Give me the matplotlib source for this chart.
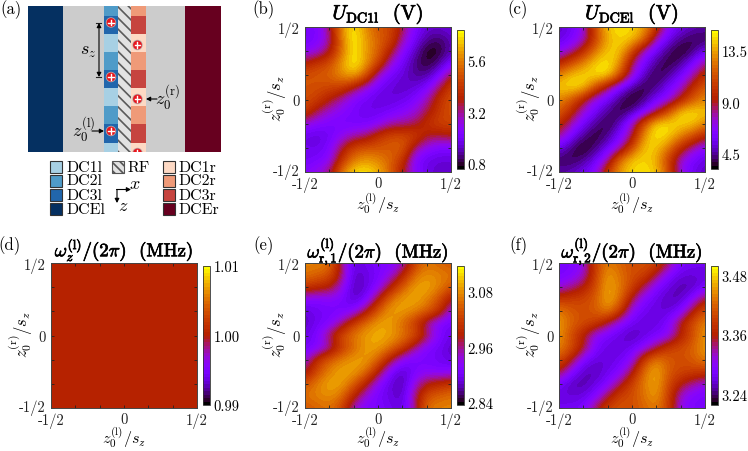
import matplotlib
matplotlib.use("Agg")
import matplotlib.pyplot as plt
import matplotlib.patheffects as pe
from matplotlib.patches import Rectangle, Circle
from matplotlib.transforms import ScaledTranslation
import numpy as np

plt.rcParams['font.family'] = ['cmr10', 'DejaVu Sans']
plt.rcParams['mathtext.fontset'] = 'cm'
plt.rcParams['axes.unicode_minus'] = False
plt.rcParams['axes.formatter.use_mathtext'] = True
plt.rcParams['hatch.linewidth'] = 1.2

W, H = 748, 452

# values, rows go from z=+1/2 down to z=-1/2, columns from -1/2 to +1/2
u_dc1l = [
    [1.99, 2.19, 3.29, 6.00, 6.85, 5.75, 4.97, 4.71, 3.48, 2.19, 1.67, 1.67, 1.80],
    [1.93, 2.12, 3.03, 5.62, 7.04, 6.00, 5.23, 4.71, 3.03, 1.99, 1.28, 1.02, 1.54],
    [2.38, 2.64, 3.55, 5.49, 6.91, 6.00, 5.23, 3.81, 2.38, 1.54, 0.63, 0.76, 1.54],
    [3.81, 4.45, 4.84, 6.00, 7.04, 6.00, 4.71, 2.77, 1.93, 1.15, 0.76, 1.28, 2.19],
    [4.97, 5.10, 5.23, 5.88, 6.26, 5.10, 2.77, 1.99, 1.67, 1.28, 1.28, 2.19, 3.81],
    [4.97, 4.84, 4.71, 4.58, 3.68, 2.64, 1.99, 1.67, 1.54, 1.67, 2.19, 3.48, 4.71],
    [4.84, 4.58, 3.81, 3.03, 2.19, 1.99, 1.67, 1.67, 1.80, 2.19, 3.03, 4.32, 4.97],
    [4.58, 3.42, 2.77, 2.38, 2.12, 1.80, 1.86, 2.06, 2.38, 2.77, 3.55, 4.45, 4.97],
    [2.77, 2.38, 2.19, 2.06, 2.06, 2.06, 2.38, 3.03, 3.16, 3.42, 4.32, 4.71, 4.71],
    [1.80, 1.67, 1.93, 2.51, 3.03, 3.29, 4.32, 4.84, 4.84, 4.71, 3.68, 3.55, 3.81],
    [1.93, 1.80, 2.19, 3.55, 4.71, 4.97, 4.97, 5.10, 5.23, 3.29, 2.51, 2.19, 2.19],
    [1.93, 2.12, 2.38, 4.32, 5.62, 6.00, 5.75, 5.23, 4.32, 2.19, 1.80, 1.67, 1.67],
    [2.38, 2.64, 3.29, 5.62, 6.72, 6.85, 6.26, 5.23, 3.68, 2.38, 1.80, 1.54, 1.67],
]
u_dcel = [
    [5.0, 5.7, 7.1, 11.4, 14.3, 14.8, 14.5, 13.4, 10.7, 6.6, 5.7, 5.0, 4.7],
    [5.3, 6.0, 7.3, 10.7, 13.8, 14.5, 14.3, 12.6, 7.6, 5.6, 4.4, 3.8, 4.0],
    [6.6, 7.8, 9.9, 12.6, 14.3, 14.3, 11.2, 7.2, 5.6, 4.2, 3.3, 4.2, 5.6],
    [9.5, 11.4, 12.9, 14.5, 14.9, 13.4, 8.3, 6.1, 4.4, 3.6, 4.4, 6.1, 8.3],
    [12.9, 14.3, 14.5, 14.7, 14.9, 11.4, 7.6, 4.9, 3.6, 4.4, 5.9, 7.8, 10.2],
    [14.3, 14.7, 14.5, 11.4, 8.3, 6.1, 4.4, 3.6, 4.4, 5.9, 7.3, 9.9, 11.9],
    [12.9, 11.7, 9.3, 6.8, 5.9, 4.2, 3.3, 4.2, 5.9, 6.8, 9.3, 11.7, 12.9],
    [11.9, 9.9, 7.3, 5.9, 4.4, 3.6, 4.4, 6.1, 8.3, 11.4, 14.5, 14.7, 14.3],
    [10.2, 7.8, 5.9, 4.4, 3.6, 4.9, 7.6, 11.4, 14.9, 14.7, 14.5, 14.3, 12.9],
    [8.3, 6.1, 4.4, 3.6, 4.4, 6.1, 8.3, 13.4, 14.9, 14.5, 12.9, 11.4, 9.5],
    [5.6, 4.2, 3.3, 4.2, 5.6, 7.2, 11.2, 14.3, 14.3, 12.6, 9.9, 7.8, 6.6],
    [4.0, 3.8, 4.4, 5.6, 7.6, 12.6, 14.3, 14.5, 13.8, 10.7, 7.3, 6.0, 5.3],
    [4.7, 5.0, 5.7, 6.6, 10.7, 13.4, 14.5, 14.8, 14.3, 11.4, 7.1, 5.7, 5.0],
]
w_z = [
    [1.000, 1.000, 1.000, 1.000, 1.000],
    [1.000, 1.000, 1.000, 1.000, 1.000],
    [1.000, 1.000, 1.000, 1.000, 1.000],
    [1.000, 1.000, 1.000, 1.000, 1.000],
    [1.000, 1.000, 1.000, 1.000, 1.000],
]
w_r1 = [
    [3.072, 3.072, 3.063, 2.962, 2.887, 2.899, 2.911, 2.911, 2.938, 3.027, 3.063, 3.051, 3.039],
    [3.063, 3.051, 3.039, 2.968, 2.878, 2.890, 2.905, 2.932, 2.991, 3.063, 3.081, 3.072, 3.063],
    [3.015, 3.000, 2.986, 2.938, 2.872, 2.887, 2.920, 2.986, 3.051, 3.090, 3.096, 3.072, 3.039],
    [2.920, 2.911, 2.920, 2.911, 2.878, 2.905, 2.986, 3.063, 3.090, 3.096, 3.072, 3.033, 2.971],
    [2.887, 2.899, 2.905, 2.905, 2.920, 2.980, 3.051, 3.090, 3.090, 3.072, 3.051, 3.009, 2.926],
    [2.878, 2.899, 2.911, 2.956, 3.021, 3.063, 3.090, 3.090, 3.051, 3.015, 2.944, 2.908, 2.899],
    [2.893, 2.911, 2.974, 3.039, 3.069, 3.090, 3.099, 3.090, 3.069, 3.039, 2.974, 2.911, 2.893],
    [2.899, 2.908, 2.944, 3.015, 3.051, 3.090, 3.090, 3.063, 3.021, 2.956, 2.911, 2.899, 2.878],
    [2.926, 3.009, 3.051, 3.072, 3.090, 3.090, 3.051, 2.980, 2.920, 2.905, 2.905, 2.899, 2.887],
    [2.971, 3.033, 3.072, 3.096, 3.090, 3.063, 2.986, 2.905, 2.878, 2.911, 2.920, 2.911, 2.920],
    [3.039, 3.072, 3.096, 3.090, 3.051, 2.986, 2.920, 2.887, 2.872, 2.938, 2.986, 3.000, 3.015],
    [3.063, 3.072, 3.081, 3.063, 2.991, 2.932, 2.905, 2.890, 2.878, 2.968, 3.039, 3.051, 3.063],
    [3.039, 3.051, 3.063, 3.027, 2.938, 2.911, 2.911, 2.899, 2.887, 2.962, 3.063, 3.072, 3.072],
]
w_r2 = [
    [3.286, 3.286, 3.305, 3.393, 3.438, 3.421, 3.404, 3.410, 3.398, 3.345, 3.286, 3.280, 3.277],
    [3.283, 3.289, 3.314, 3.393, 3.458, 3.432, 3.404, 3.398, 3.348, 3.289, 3.269, 3.266, 3.269],
    [3.308, 3.331, 3.359, 3.404, 3.463, 3.438, 3.398, 3.342, 3.289, 3.269, 3.252, 3.255, 3.283],
    [3.387, 3.393, 3.398, 3.415, 3.466, 3.432, 3.348, 3.289, 3.274, 3.255, 3.257, 3.297, 3.359],
    [3.438, 3.415, 3.404, 3.415, 3.444, 3.393, 3.297, 3.277, 3.266, 3.266, 3.289, 3.359, 3.410],
    [3.458, 3.421, 3.404, 3.393, 3.342, 3.297, 3.277, 3.266, 3.269, 3.289, 3.359, 3.410, 3.444],
    [3.452, 3.404, 3.359, 3.297, 3.283, 3.269, 3.252, 3.269, 3.283, 3.297, 3.359, 3.404, 3.452],
    [3.444, 3.410, 3.359, 3.289, 3.269, 3.266, 3.277, 3.297, 3.342, 3.393, 3.404, 3.421, 3.458],
    [3.410, 3.359, 3.289, 3.266, 3.266, 3.277, 3.297, 3.393, 3.444, 3.415, 3.404, 3.415, 3.438],
    [3.359, 3.297, 3.257, 3.255, 3.274, 3.289, 3.348, 3.432, 3.466, 3.415, 3.398, 3.393, 3.387],
    [3.283, 3.255, 3.252, 3.269, 3.289, 3.342, 3.398, 3.438, 3.463, 3.404, 3.359, 3.331, 3.308],
    [3.269, 3.266, 3.269, 3.289, 3.348, 3.398, 3.404, 3.432, 3.458, 3.393, 3.314, 3.289, 3.283],
    [3.277, 3.280, 3.286, 3.345, 3.398, 3.410, 3.404, 3.421, 3.438, 3.393, 3.305, 3.286, 3.286],
]

# colour ranges and colourbar ticks
limits_b, ticks_b = (0.57, 7.04), [0.8, 3.2, 5.6]
limits_c, ticks_c = (3.2, 15.3), [4.5, 9.0, 13.5]
limits_d, ticks_d = (0.99, 1.01), [0.99, 1.00, 1.01]
limits_e, ticks_e = (2.836, 3.135), [2.84, 2.96, 3.08]
limits_f, ticks_f = (3.218, 3.50), [3.24, 3.36, 3.48]

tick_pos = [-1/2, -1/3, -1/6, 0, 1/6, 1/3, 1/2]
tick_labels = ['-1/2', '', '', '0', '', '', '1/2']

# electrode colours
colors_left = ['#a7d0e4', '#4f9bc8', '#2166ac']
colors_right = ['#fdd9c4', '#ef9a78', '#c6443f']
color_dcel = '#053061'
color_dcer = '#67001f'
legend_names = ['DC1l', 'DC2l', 'DC3l', 'DCEl']
legend_names_r = ['DC1r', 'DC2r', 'DC3r', 'DCEr']

cmap = plt.get_cmap('gnuplot', 40)
bold = [pe.withStroke(linewidth=0.5, foreground='black')]

fig = plt.figure(figsize=(W / 100, H / 100), dpi=100)


def box(x0, y0, x1, y1):
    return [x0 / W, 1 - y1 / H, (x1 - x0) / W, (y1 - y0) / H]


def put(x, y, s, **kw):
    kw.setdefault('ha', 'center')
    kw.setdefault('va', 'center')
    kw.setdefault('fontsize', 10.5)
    return fig.text(x / W, 1 - y / H, s, **kw)


def heatmap(x0, y0, values, limits, ticks, title, letter, fmt, title_size=13.5, label_gap=31):
    x1, y1 = x0 + 146, y0 + 145
    ax = fig.add_axes(box(x0, y0, x1, y1))
    values = np.array(values)
    half = 0.5 / (values.shape[0] - 1)
    im = ax.imshow(values, extent=[-0.5 - half, 0.5 + half, -0.5 - half, 0.5 + half],
                   cmap=cmap, vmin=limits[0], vmax=limits[1], aspect='auto',
                   interpolation='bicubic', interpolation_stage='data')
    ax.set_xlim(-0.5, 0.5)
    ax.set_ylim(-0.5, 0.5)
    ax.set_xticks(tick_pos)
    ax.set_xticklabels(tick_labels)
    ax.set_yticks(tick_pos)
    ax.set_yticklabels(tick_labels)
    ax.tick_params(direction='in', top=True, right=True, length=2, width=0.6,
                   labelsize=10.5, colors='#222222')
    ax.tick_params(axis='x', pad=3)
    ax.tick_params(axis='y', pad=4)
    # the lowest y label sits a little above its tick
    low = ax.get_yticklabels()[0]
    low.set_transform(low.get_transform() + ScaledTranslation(0, 3 / 100, fig.dpi_scale_trans))
    for s in ax.spines.values():
        s.set_linewidth(0.7)
        s.set_color('#444444')
    cax = fig.add_axes(box(x1 + 5.5, y0 + 3, x1 + 12.5, y1 - 3))
    cb = fig.colorbar(im, cax=cax)
    cb.set_ticks(ticks)
    cb.set_ticklabels([fmt % t for t in ticks])
    cb.ax.tick_params(length=0, labelsize=10.5, pad=3)
    cb.outline.set_linewidth(0.6)
    cb.outline.set_edgecolor('#333333')
    cx = (x0 + x1) / 2
    put(cx, y0 - 13, title, fontsize=title_size, path_effects=bold)
    put(cx, y1 + label_gap, r'$z_0^{(\mathrm{l})}/s_z$', fontsize=11.5)
    put(x0 - 30, (y0 + y1) / 2 - 2, r'$z_0^{(\mathrm{r})}/s_z$', rotation=90, fontsize=12)
    put(x0 - 41, y0 - 18, letter, fontsize=12)


heatmap(305, 28, u_dc1l, limits_b, ticks_b, r'$U_{\mathrm{DC1l}}$  (V)', '(b)', '%.1f', 14.5)
heatmap(559, 28, u_dcel, limits_c, ticks_c, r'$U_{\mathrm{DCEl}}$  (V)', '(c)', '%.1f', 14.5)
heatmap(51, 264, w_z, limits_d, ticks_d, r'$\omega_z^{(\mathrm{l})}/(2\pi)$  (MHz)', '(d)', '%.2f', label_gap=29)
heatmap(305, 264, w_r1, limits_e, ticks_e, r'$\omega_{\mathrm{r},1}^{(\mathrm{l})}/(2\pi)$  (MHz)', '(e)', '%.2f', label_gap=29)
heatmap(559, 264, w_r2, limits_f, ticks_f, r'$\omega_{\mathrm{r},2}^{(\mathrm{l})}/(2\pi)$  (MHz)', '(f)', '%.2f', label_gap=29)

# panel (a), a sketch drawn in pixel units
ax = fig.add_axes([0, 0, 1, 1], zorder=-1)
ax.set_xlim(0, W)
ax.set_ylim(H, 0)
ax.axis('off')

top, bottom = 7, 153
clip = Rectangle((28, top), 193, bottom - top, transform=ax.transData)
ax.add_patch(Rectangle((28, top), 193, bottom - top, fc='#cccccc', ec='none'))
ax.add_patch(Rectangle((28, top), 35, bottom - top, fc=color_dcel, ec='none'))
ax.add_patch(Rectangle((185, top), 36, bottom - top, fc=color_dcer, ec='none'))

seg_edges = [7, 17, 35, 53, 71, 89, 107, 125, 143.5, 153]
seg_kind = [1, 2, 0, 1, 2, 0, 1, 2, 0]
for i, k in enumerate(seg_kind):
    ax.add_patch(Rectangle((104, seg_edges[i]), 14, seg_edges[i + 1] - seg_edges[i],
                           fc=colors_left[k], ec='none'))
    ax.add_patch(Rectangle((131, seg_edges[i]), 15, seg_edges[i + 1] - seg_edges[i],
                           fc=colors_right[k], ec='none'))
ax.add_patch(Rectangle((118, top), 13, bottom - top, fc='#e2e2e2', ec='#5a5a5a',
                       hatch='\\\\\\', lw=0))

ion_x = [111, 111, 111, 137.5, 137.5, 137.5]
ion_y = [23.5, 78, 132, 46, 100, 154]
for x, y in zip(ion_x, ion_y):
    for r, c in [(5.2, '#b8a8a8'), (4.4, '#e8141c')]:
        p = Circle((x, y), r, fc=c, ec='none', zorder=3)
        ax.add_patch(p)
        p.set_clip_path(clip)
    a, = ax.plot([x - 2.6, x + 2.6], [y, y], color='white', lw=1.0, zorder=4)
    b, = ax.plot([x, x], [y - 2.6, y + 2.6], color='white', lw=1.0, zorder=4)
    a.set_clip_path(clip)
    b.set_clip_path(clip)


def arrow(x0, y0, x1, y1, style='-|>'):
    ax.annotate('', xy=(x1, y1), xytext=(x0, y0),
                arrowprops=dict(arrowstyle=style + ',head_length=0.25,head_width=0.13',
                                lw=0.8, color='black', shrinkA=0, shrinkB=0))


arrow(99, 24, 99, 78, '<|-|>')
ax.plot([96.5, 101.5], [23.5, 23.5], color='#222222', lw=0.8)
ax.plot([96.5, 101.5], [78, 78], color='#222222', lw=0.8)
put(88, 52, r'$s_z$', fontsize=13)
arrow(92, 132, 104, 132)
put(84, 130, r'$z_0^{(\mathrm{l})}$', fontsize=13)
arrow(157, 100, 146, 100)
put(168, 98, r'$z_0^{(\mathrm{r})}$', fontsize=13)
put(10.5, 10, '(a)', fontsize=12)

# legend of panel (a)
row_y = [162, 175.5, 190, 204]
for i in range(4):
    left_c = colors_left[i] if i < 3 else color_dcel
    right_c = colors_right[i] if i < 3 else color_dcer
    ax.add_patch(Rectangle((50.5, row_y[i]), 12, 12, fc=left_c, ec='#333333', lw=0.8))
    ax.add_patch(Rectangle((163, row_y[i]), 12, 12, fc=right_c, ec='#333333', lw=0.8))
    put(66.5, row_y[i] + 6, legend_names[i], ha='left', fontsize=11.5)
    put(179, row_y[i] + 6, legend_names_r[i], ha='left', fontsize=11.5)
ax.add_patch(Rectangle((112, 162), 12, 12, fc='#e2e2e2', ec='#555555', hatch='\\\\\\\\', lw=0.8))
put(128, 168, 'RF', ha='left', fontsize=11.5)

arrow(116.5, 190.5, 131, 190.5)
arrow(117, 190.5, 117, 204)
put(135, 184, r'$x$', fontsize=13)
put(123, 206, r'$z$', fontsize=13)

fig.savefig('out.png', dpi=100)
